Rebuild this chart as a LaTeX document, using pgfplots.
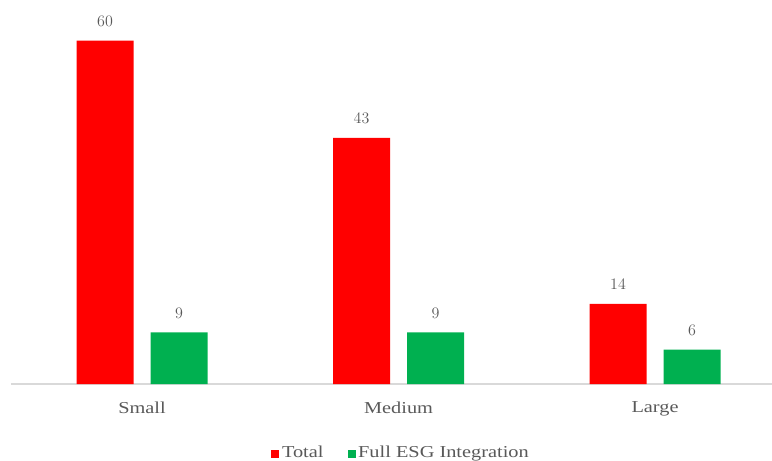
\documentclass[border=0pt]{standalone}
\usepackage{fontspec}
\setmainfont{Liberation Serif}
\newfontfamily\wide{Liberation Serif}[FakeStretch=1.22]
\usepackage{pgfplots}
\pgfplotsset{compat=1.18}
\definecolor{cRed}{HTML}{FF0000}
\definecolor{cGreen}{HTML}{00B050}
\definecolor{cText}{HTML}{595959}
\definecolor{cAxis}{HTML}{D9D9D9}
\begin{document}
\begin{tikzpicture}
\useasboundingbox (0,0) rectangle (579pt,345.75pt);
\begin{axis}[
  at={(8.25pt,57.75pt)}, anchor=south west,
  scale only axis, width=570.75pt, height=279pt,
  ymin=0, ymax=65,
  xmin=-0.511, xmax=2.456,
  ybar=12.75pt, bar width=42.75pt,
  axis x line*=bottom, axis y line=none,
  x axis line style={cAxis, line width=1pt, -},
  xtick={0,1,2}, xticklabels={Small,Medium,Large},
  major tick length=0pt,
  xticklabel style={font=\wide\fontsize{12.5}{14}\selectfont, text=cText, yshift=-10pt},
  nodes near coords,
  every node near coord/.append style={font=\wide\fontsize{12.5}{14}\selectfont, text=cText, yshift=7pt},
  legend style={at={(0.513,-0.185)}, anchor=center, draw=none, legend columns=2,
    font=\wide\fontsize{12.5}{14}\selectfont, text=cText,
    /tikz/every even column/.append style={column sep=16pt}},
  legend image code/.code={\fill[#1] (0pt,-4pt) rectangle (6pt,2pt);},
]
\addplot[fill=cRed, draw=none] coordinates {(0,60) (1,43) (2,14)};
\addplot[fill=cGreen, draw=none] coordinates {(0,9) (1,9) (2,6)};
\legend{Total, Full ESG Integration}
\end{axis}
\end{tikzpicture}
\end{document}
